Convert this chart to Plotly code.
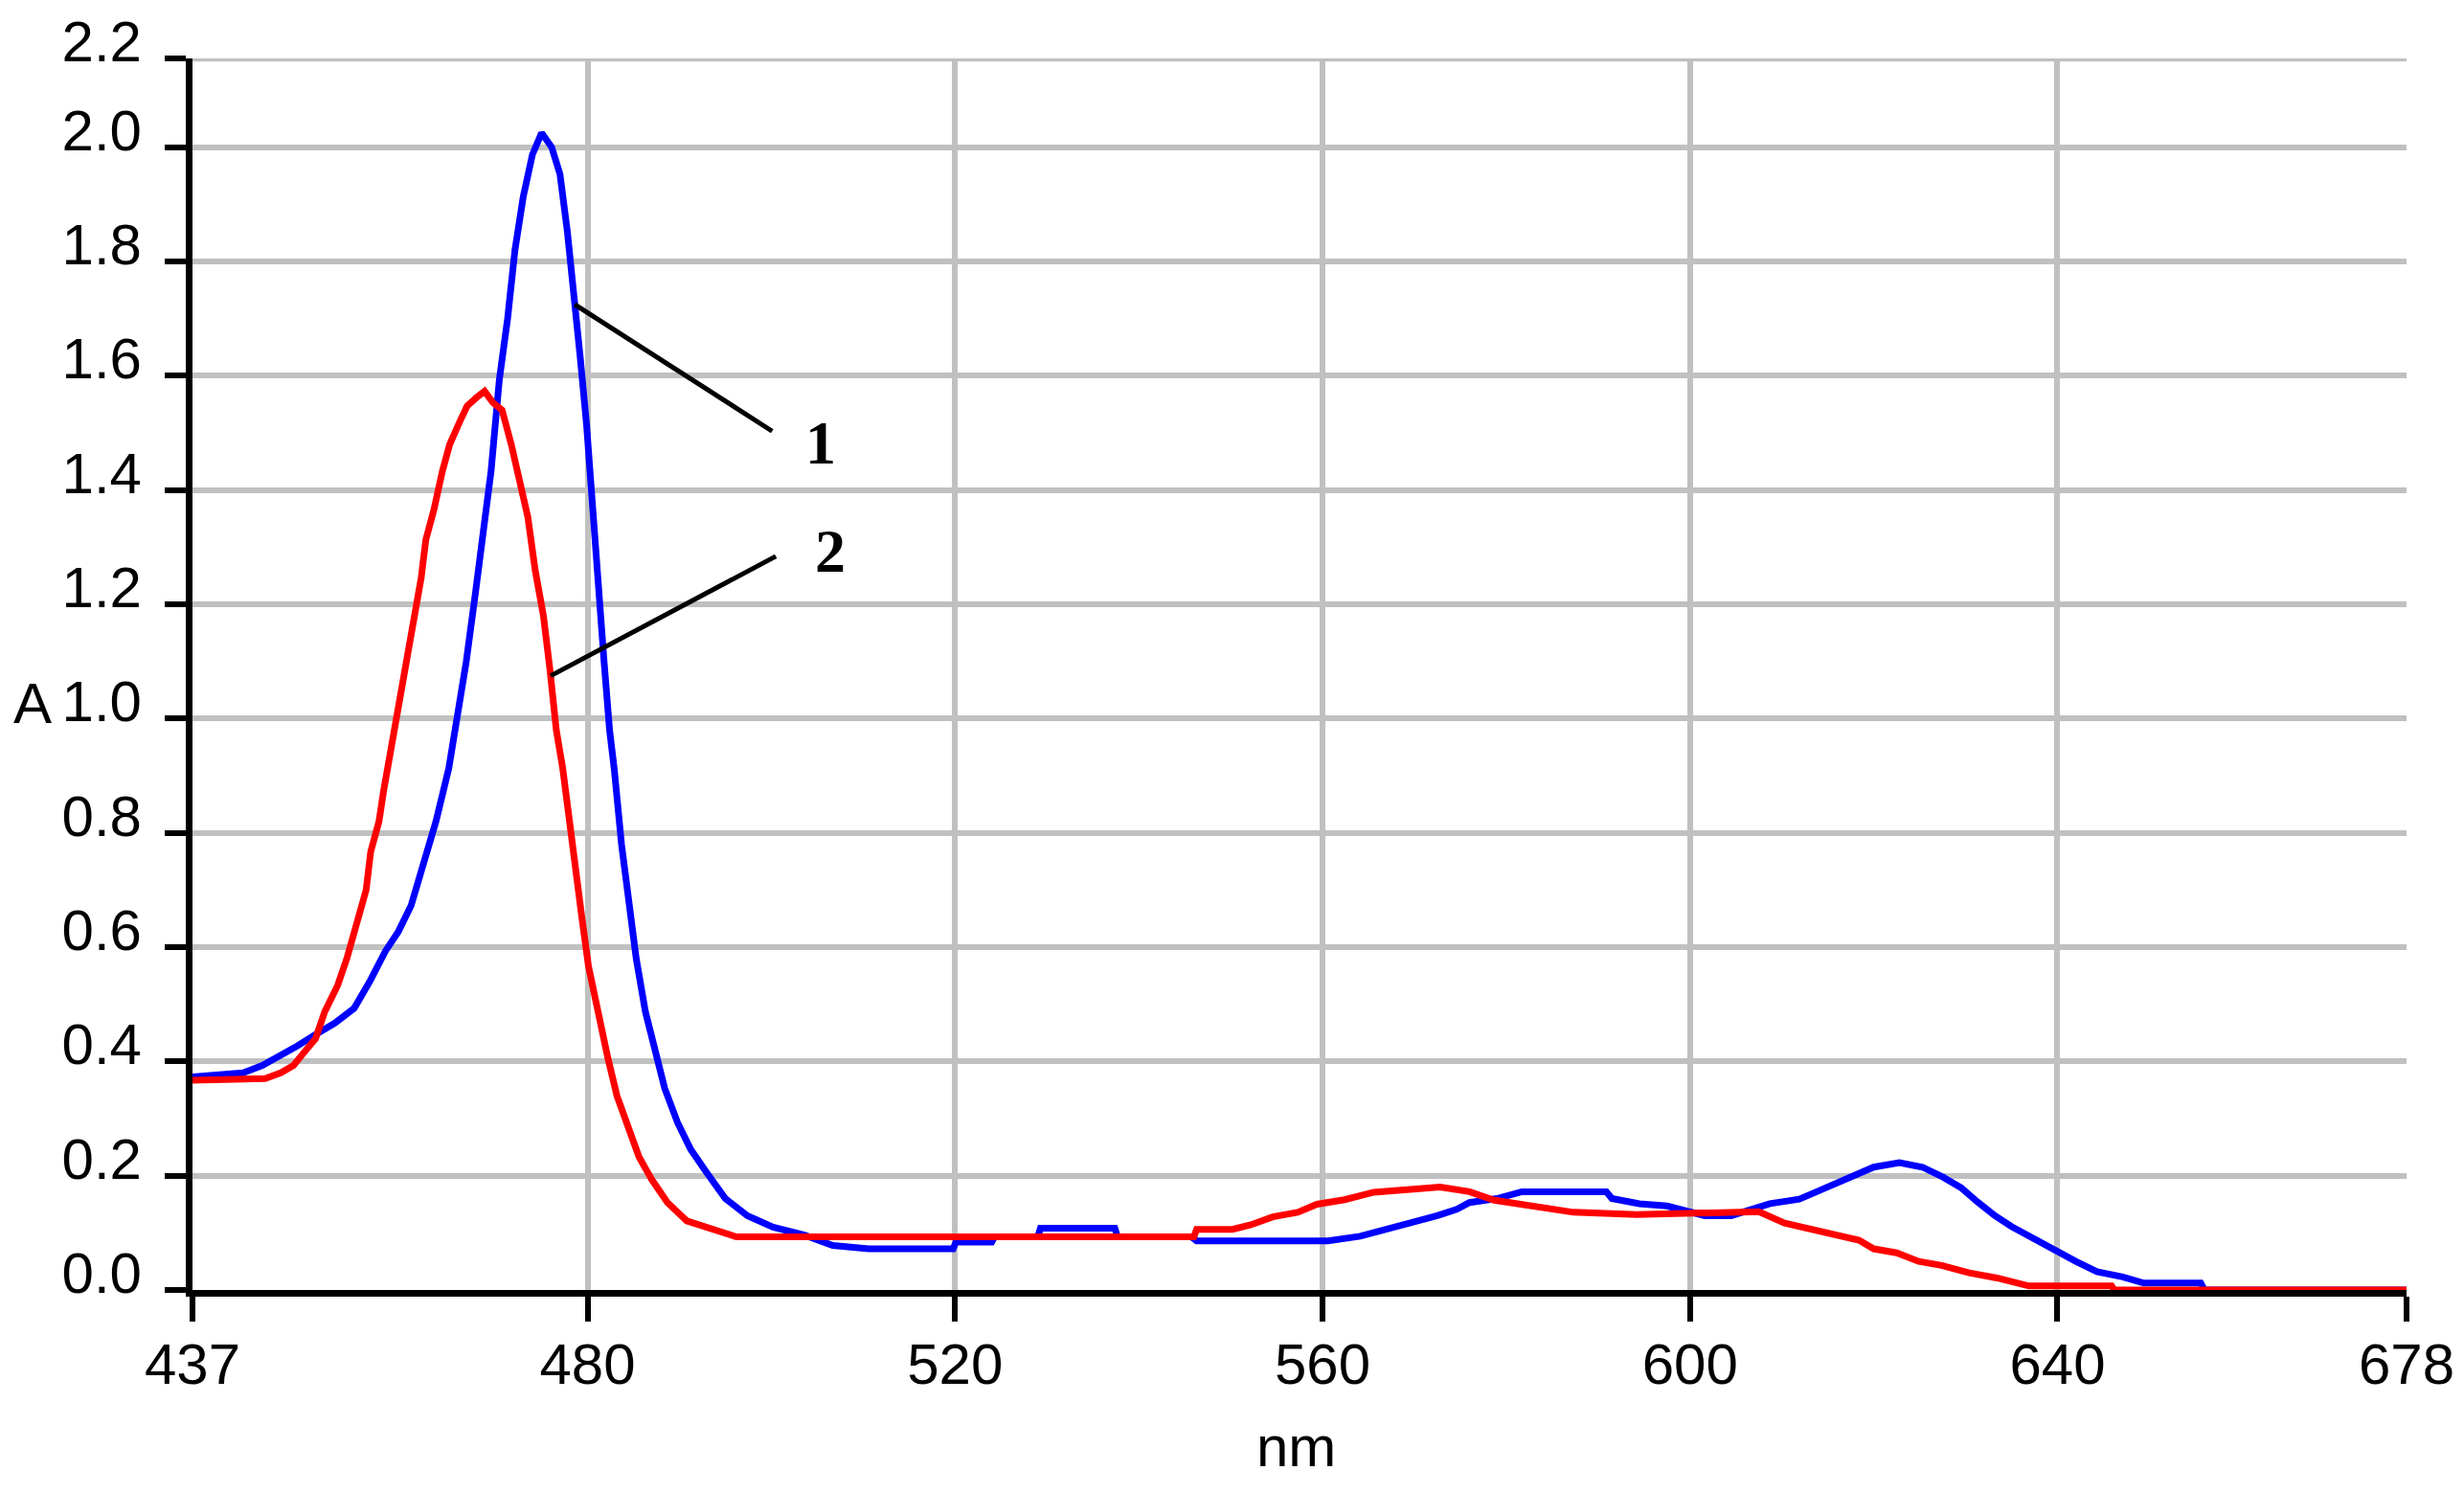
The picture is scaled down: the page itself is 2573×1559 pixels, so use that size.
import plotly.graph_objects as go

# curve 1 (blue) - wavelength, absorbance
nm_1 = [437.0, 442.5, 444.6, 446.3, 448.4, 450.4, 452.5, 454.6, 456.3, 458.0,
        459.4, 460.8, 462.2, 463.5, 464.9, 465.9, 466.8, 467.8, 468.7, 469.5,
        470.4, 471.3, 472.1, 473.0, 474.0, 475.0, 476.1, 477.0, 477.8, 478.5,
        479.2, 479.9, 480.4, 481.1, 481.8, 482.4, 482.9, 483.7, 484.4, 485.3,
        486.3, 487.4, 488.4, 489.8, 491.2, 492.9, 495.0, 497.4, 500.2, 503.6,
        506.7, 510.6, 519.8, 520.1, 524.0, 524.3, 529.0, 529.3, 537.4, 537.7,
        545.7, 546.3, 560.6, 564.1, 567.4, 569.8, 572.5, 574.6, 576.0, 579.0,
        581.7, 590.9, 591.5, 594.5, 597.5, 601.6, 604.5, 608.7, 611.9, 613.8,
        616.1, 617.9, 620.0, 622.8, 625.3, 627.6, 629.5, 631.3, 633.2, 635.0,
        637.4, 639.7, 642.0, 644.3, 647.1, 649.4, 655.6, 656.0, 678.0]
a_1 = [0.373, 0.38, 0.393, 0.407, 0.427, 0.447, 0.467, 0.493, 0.54, 0.593,
       0.627, 0.673, 0.753, 0.82, 0.913, 1.007, 1.10, 1.22, 1.327, 1.433,
       1.593, 1.70, 1.82, 1.913, 1.987, 2.025, 2.0, 1.953, 1.853, 1.753,
       1.633, 1.513, 1.393, 1.247, 1.10, 0.98, 0.913, 0.78, 0.687, 0.58,
       0.487, 0.42, 0.353, 0.293, 0.247, 0.207, 0.16, 0.13, 0.11, 0.096,
       0.078, 0.072, 0.072, 0.084, 0.084, 0.093, 0.093, 0.108, 0.108, 0.093,
       0.093, 0.086, 0.086, 0.094, 0.108, 0.117, 0.13, 0.141, 0.153, 0.16,
       0.172, 0.172, 0.16, 0.151, 0.147, 0.13, 0.13, 0.151, 0.159, 0.172,
       0.188, 0.201, 0.215, 0.223, 0.215, 0.197, 0.179, 0.154, 0.13, 0.111,
       0.09, 0.068, 0.05, 0.032, 0.023, 0.012, 0.012, 0.0, 0.0]

# curve 2 (red)
nm_2 = [437.0, 444.9, 446.6, 448.0, 449.0, 450.4, 451.4, 452.8, 453.8, 454.9,
        455.9, 456.4, 457.3, 457.8, 458.7, 459.5, 460.4, 461.1, 461.9, 462.4,
        463.3, 464.2, 465.0, 466.1, 466.9, 468.0, 468.8, 469.7, 470.7, 471.7,
        472.6, 473.5, 474.3, 475.2, 475.9, 476.6, 477.3, 478.0, 478.8, 479.4,
        480.1, 481.1, 482.2, 483.2, 484.3, 485.6, 487.0, 488.7, 490.8, 493.5,
        496.2, 507.9, 546.0, 546.3, 550.2, 552.2, 554.6, 557.3, 559.4, 562.4,
        565.6, 572.8, 576.0, 578.7, 582.0, 587.3, 594.2, 607.5, 610.3, 612.8,
        615.8, 618.4, 620.0, 622.5, 624.9, 627.4, 630.4, 633.4, 636.9, 645.9,
        646.2, 678.0]
a_2 = [0.367, 0.37, 0.38, 0.393, 0.413, 0.44, 0.487, 0.533, 0.58, 0.64,
       0.70, 0.767, 0.82, 0.873, 0.953, 1.02, 1.10, 1.167, 1.247, 1.313,
       1.367, 1.433, 1.48, 1.52, 1.547, 1.563, 1.573, 1.553, 1.54, 1.48,
       1.42, 1.353, 1.26, 1.18, 1.087, 0.98, 0.913, 0.82, 0.727, 0.65,
       0.567, 0.487, 0.407, 0.34, 0.287, 0.233, 0.193, 0.153, 0.121, 0.107,
       0.093, 0.093, 0.093, 0.106, 0.106, 0.114, 0.128, 0.136, 0.15, 0.158,
       0.171, 0.18, 0.172, 0.157, 0.15, 0.136, 0.132, 0.137, 0.117, 0.108,
       0.096, 0.087, 0.072, 0.065, 0.05, 0.043, 0.03, 0.021, 0.007, 0.007,
       0.0, 0.0]

x_ticks = [437, 480, 520, 560, 600, 640, 678]
# the original plot labels its top edge (about 2.155) as 2.2
y_top = 2.155
y_ticks = [0.0, 0.2, 0.4, 0.6, 0.8, 1.0, 1.2, 1.4, 1.6, 1.8, 2.0, y_top]
y_labels = ["0.0", "0.2", "0.4", "0.6", "0.8", "1.0", "1.2", "1.4", "1.6",
            "1.8", "2.0", "2.2"]

# leader lines from the curves to the numbers 1 and 2
curve_labels = ["1", "2"]
leader_x = [[478.6, 500.1], [476.0, 500.5]]
leader_y = [[1.725, 1.503], [1.075, 1.284]]
label_x = [505.35, 506.4]
label_y = [1.482, 1.293]

fnt = "Liberation Sans, Arial, sans-serif"

fig = go.Figure()
fig.add_trace(go.Scatter(x=nm_1, y=a_1, mode="lines", name="1", cliponaxis=False,
                         line=dict(color="#0000ff", width=7)))
fig.add_trace(go.Scatter(x=nm_2, y=a_2, mode="lines", name="2", cliponaxis=False,
                         line=dict(color="#ff0000", width=7)))

for i in range(len(curve_labels)):
    fig.add_shape(type="line", xref="x", yref="y",
                  x0=leader_x[i][0], x1=leader_x[i][1],
                  y0=leader_y[i][0], y1=leader_y[i][1],
                  line=dict(color="black", width=5))
    fig.add_annotation(x=label_x[i], y=label_y[i], xref="x", yref="y",
                       text="<b>" + curve_labels[i] + "</b>", showarrow=False,
                       xanchor="center", yanchor="middle",
                       font=dict(family="Liberation Serif, Times New Roman, serif",
                                 size=64, color="black"))

# grey frame line along the top edge, as in the original
fig.add_shape(type="line", xref="paper", yref="y", x0=0, x1=1, y0=y_top, y1=y_top,
              line=dict(color="#c0c0c0", width=6), layer="below")

fig.add_annotation(x=-0.0722, y=0.476, xref="paper", yref="paper", text="A",
                   showarrow=False, xanchor="center", yanchor="middle",
                   font=dict(family=fnt, size=60, color="black"))
fig.add_annotation(x=0.4987, y=-0.127, xref="paper", yref="paper", text="nm",
                   showarrow=False, xanchor="center", yanchor="middle",
                   font=dict(family=fnt, size=60, color="black"))

fig.update_xaxes(range=[437, 678], tickvals=x_ticks, ticktext=[str(v) for v in x_ticks],
                 showgrid=True, gridcolor="#c0c0c0", gridwidth=6,
                 showline=True, linecolor="black", linewidth=7,
                 ticks="outside", ticklen=26, tickwidth=6, tickcolor="black",
                 tickfont=dict(family=fnt, size=60, color="black"),
                 ticklabelstandoff=-7, zeroline=False, automargin=False,
                 ticklabeloverflow="allow", layer="below traces")
fig.update_yaxes(range=[0, y_top + 0.0004], tickvals=y_ticks, ticktext=y_labels,
                 showgrid=True, gridcolor="#c0c0c0", gridwidth=6,
                 showline=True, linecolor="black", linewidth=7,
                 ticks="outside", ticklen=22, tickwidth=6, tickcolor="black",
                 tickfont=dict(family=fnt, size=60, color="black"),
                 ticklabelstandoff=12, ticklabelshift=-18, zeroline=False,
                 ticklabeloverflow="allow", automargin=False, layer="below traces")

# the page body adds an 8px margin, so the figure is 16px smaller and the
# margins are set so the plot area lands where it is in the original
fig.update_layout(width=2557, height=1543, showlegend=False,
                  plot_bgcolor="white", paper_bgcolor="white",
                  margin=dict(l=193, r=52, t=53, b=204))

fig.write_html("out.html")
